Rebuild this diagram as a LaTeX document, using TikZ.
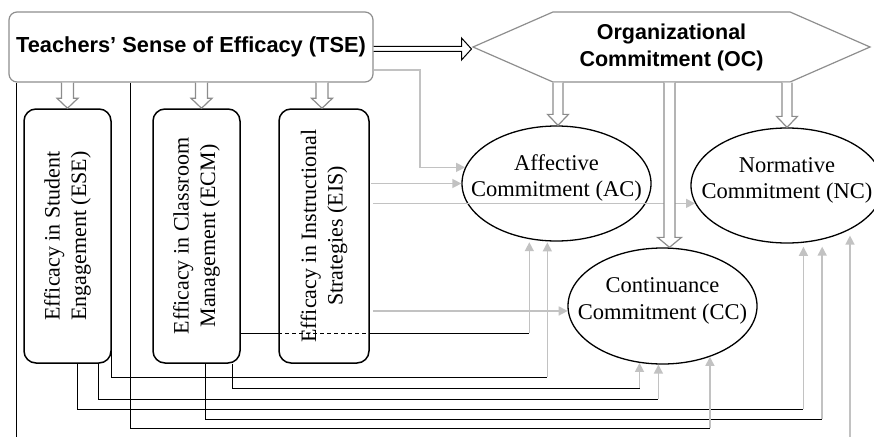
\documentclass[tikz,border=0pt]{standalone}
\usepackage{fontspec}
\usepackage{graphicx}
\setmainfont{Liberation Serif}
\newfontfamily\hvfont{Liberation Sans}
\usetikzlibrary{arrows.meta,shapes.geometric,shapes.symbols,calc}
\definecolor{boxgray}{HTML}{8E8E8E}
\definecolor{lightg}{HTML}{C2C2C2}
\definecolor{midg}{HTML}{8C8C8C}
\newcommand\ctext[1]{\makebox[0pt]{\smash{\begin{tabular}{@{}c@{}}#1\end{tabular}}}}
\newcommand\rtext[1]{\rotatebox{90}{\begin{tabular}{@{}c@{}}#1\end{tabular}}}
% vertical block arrow: [style]{start}{end}{shaft half width}{head half width}{head length}
\newcommand\varrow[6][]{\draw[#1] let \p1=(#2), \p2=(#3) in
  (\x1-#4,\y1) -- (\x1-#4,\y2+#6) -- (\x1-#5,\y2+#6) -- (\x1,\y2) --
  (\x1+#5,\y2+#6) -- (\x1+#4,\y2+#6) -- (\x1+#4,\y1);}
% horizontal block arrow
\newcommand\harrow[6][]{\draw[#1] let \p1=(#2), \p2=(#3) in
  (\x1,\y1+#4) -- (\x2-#6,\y1+#4) -- (\x2-#6,\y1+#5) -- (\x2,\y1) --
  (\x2-#6,\y1-#5) -- (\x2-#6,\y1-#4) -- (\x1,\y1-#4);}
\begin{document}
\begin{tikzpicture}[x=1pt,y=-1pt,
  tsebox/.style={draw=boxgray, line width=1.2pt, rounded corners=8pt,
    minimum width=364pt, minimum height=70pt, inner sep=0pt,
    font=\hvfont\bfseries\fontsize{21.8}{25}\selectfont},
  ocbox/.style={draw=boxgray, line width=1.2pt, signal, signal to=west and east,
    signal pointer angle=47.3, minimum width=397pt, minimum height=70pt,
    inner sep=0pt, align=center, font=\hvfont\bfseries\fontsize{21.5}{27}\selectfont},
  subbox/.style={draw=black, line width=1.5pt, rounded corners=12pt,
    minimum width=87pt, minimum height=254pt, inner sep=0pt,
    font=\fontsize{22}{26.5}\selectfont},
  comm/.style={draw=black, line width=1.3pt, ellipse, inner sep=0pt,
    font=\fontsize{22.5}{26.5}\selectfont},
  blk/.style={draw=black, line width=0.8pt},
  garr/.style={draw=lightg, line width=1.5pt, -{Triangle[length=9pt,width=9pt]}},
  hollow/.style={draw=midg, line width=1.2pt, fill=white},
  hollowblk/.style={draw=black, line width=1pt, fill=white}]
\useasboundingbox (0,0) rectangle (874,436);
\clip (0,0) rectangle (874,436);

% nodes
\node[tsebox] (TSE) at (191,47) {Teachers’ Sense of Efficacy (TSE)};
\node[ocbox] (OC) at (671.5,47) {Organizational\\Commitment (OC)};
\node[subbox] (ESE) at (67.5,236) {\rtext{Efficacy in Student\\Engagement (ESE)}};
\node[subbox] (ECM) at (196.5,236) {\rtext{Efficacy in Classroom\\Management (ECM)}};
\node[subbox, minimum width=90pt] (EIS) at (324,236) {\rtext{Efficacy in Instructional\\Strategies (EIS)}};
\node[comm, minimum width=189pt, minimum height=115pt] (AC) at (556.5,183.5) {\ctext{Affective\\Commitment (AC)}};
\node[comm, minimum width=192pt, minimum height=115pt] (NC) at (787,185.5) {\ctext{Normative\\Commitment (NC)}};
\node[comm, minimum width=189pt, minimum height=116pt] (CC) at (662.5,306) {\ctext{Continuance\\Commitment (CC)}};

% helper coordinates
\coordinate (y70) at (0,70);
\coordinate (x420) at (420,0);
\coordinate (y333) at (0,333);
\coordinate (yA) at (0,377);
\coordinate (yB) at (0,388);
\coordinate (yC) at (0,399);
\coordinate (yD) at (0,409);
\coordinate (yE) at (0,419);
\coordinate (yF) at (0,428);
\coordinate (yG) at (0,437);

% TSE -> AC
\draw[garr] (TSE.east |- y70) -| (x420 |- AC.170) -- (AC.170);
% EIS -> AC, NC, CC
\draw[garr] ([xshift=1pt]EIS.east |- AC.west) -- (AC.west);
\draw[garr] ([xshift=3pt]EIS.east |- NC.191) -- (NC.191);
\draw[garr] ([xshift=3pt]EIS.east |- CC.183) -- (CC.183);
% ECM -> AC
\draw[blk] (ECM.east |- y333) -- (EIS.west |- y333);
\draw[blk, dash pattern=on 4pt off 3pt] (EIS.west |- y333) -- (EIS.east |- y333);
\draw[blk] (EIS.east |- y333) -- (AC.244 |- y333);
\draw[garr, shorten >=3pt] (AC.244 |- y333) -- (AC.244);
% ESE -> AC
\draw[blk] (ESE.east) |- (AC.261 |- yA);
\draw[garr, shorten >=1pt] (AC.261 |- yA) -- (AC.261);
% ECM -> CC
\draw[blk] ([xshift=35.5pt]ECM.south) |- (CC.248 |- yB);
\draw[garr] (CC.248 |- yB) -- (CC.248);
% ESE -> CC
\draw[blk] ([xshift=30.5pt]ESE.south) |- (CC.266 |- yC);
\draw[garr] (CC.266 |- yC) -- (CC.266);
% ESE -> NC
\draw[blk] ([xshift=9.5pt]ESE.south) |- (NC.286 |- yD);
\draw[garr, shorten >=4pt] (NC.286 |- yD) -- (NC.286);
% ECM -> NC
\draw[blk] ([xshift=8.5pt]ECM.south) |- (NC.303 |- yE);
\draw[garr, shorten >=7pt] (NC.303 |- yE) -- (NC.303);
% TSE -> CC
\draw[blk] ([xshift=-61pt]TSE.south) |- (CC.313 |- yF);
\draw[garr] (CC.313 |- yF) -- (CC.313);
% TSE -> NC
\draw[blk] ([xshift=8pt]TSE.south west) |- (NC.325 |- yG);
\draw[garr, shorten >=6pt] (NC.325 |- yG) -- (NC.325);

% block arrows
\coordinate (ecmin) at ([xshift=5pt]ECM.north);
\coordinate (eisin) at ([xshift=-2pt]EIS.north);
\coordinate (ocac) at ([xshift=1.5pt]AC.north);
\coordinate (occc) at ([xshift=7pt]CC.north);
\varrow[hollow]{TSE.south -| ESE.north}{ESE.north}{6pt}{10.5pt}{10pt}
\varrow[hollow]{TSE.south -| ecmin}{ecmin}{6pt}{10.5pt}{10pt}
\varrow[hollow]{TSE.south -| eisin}{eisin}{6pt}{10.5pt}{10pt}
\varrow[hollow]{OC.south -| ocac}{ocac}{5pt}{10.5pt}{11pt}
\varrow[hollow]{OC.south -| NC.north}{NC.north}{5pt}{10.5pt}{11pt}
\varrow[hollow]{OC.south -| occc}{occc}{5.5pt}{12pt}{10pt}
\harrow[hollowblk]{[yshift=-2pt]TSE.east}{OC.west}{2.5pt}{11pt}{10pt}
\end{tikzpicture}
\end{document}
